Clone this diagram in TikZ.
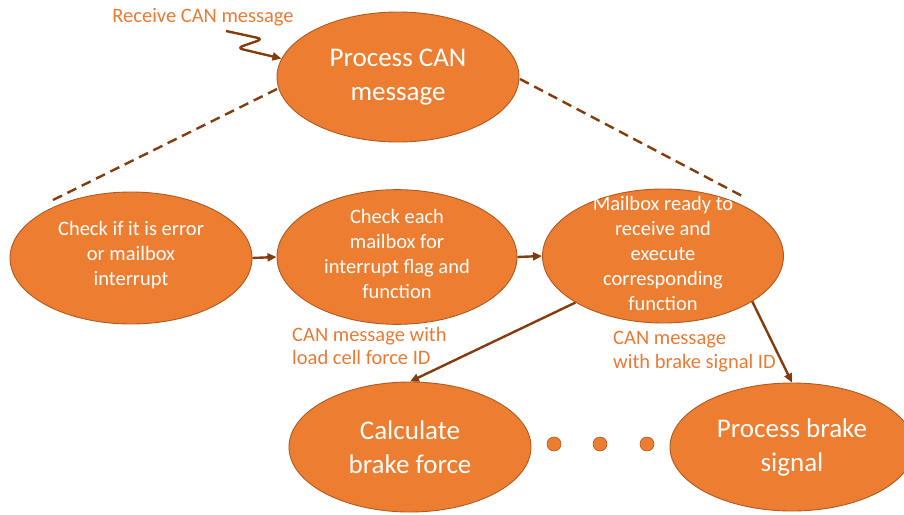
\documentclass[tikz,border=0pt]{standalone}
\usepackage{fontspec}
\setmainfont{Carlito}
\usetikzlibrary{arrows.meta,shapes.geometric}
\definecolor{boxorange}{HTML}{ED7D31}
\definecolor{boxedge}{HTML}{AE5A21}
\definecolor{linkbrown}{HTML}{843C0C}
\definecolor{labelorange}{HTML}{E97A34}
\tikzset{
  state/.style={ellipse, fill=boxorange, draw=boxedge, line width=0.9pt,
    text=white, align=center, inner sep=0pt},
  bigstate/.style={state, font=\fontsize{27}{34}\selectfont},
  smallstate/.style={state, font=\fontsize{20.5}{25}\selectfont},
  link/.style={draw=linkbrown, line width=2.4pt, -{Triangle[length=9pt,width=8pt]}},
  dashlink/.style={draw=linkbrown, line width=2.4pt, dash pattern=on 10pt off 6pt},
  msg/.style={text=labelorange, font=\fontsize{20.5}{23.5}\selectfont, align=left, inner sep=0pt},
  dot/.style={circle, fill=boxorange, draw=boxedge, line width=0.6pt, minimum size=14pt, inner sep=0pt}
}
\begin{document}
\begin{tikzpicture}[x=1pt,y=-1pt]
\useasboundingbox (0,0) rectangle (904,514);
\node[bigstate, minimum width=242pt, minimum height=130pt] (proc) at (398,77) {Process CAN\\message};
\node[smallstate, minimum width=242pt, minimum height=132pt, text depth=9pt] (chk) at (131,258) {Check if it is error\\or mailbox\\interrupt};
\node[smallstate, minimum width=240pt, minimum height=134pt, text depth=6pt] (mbx) at (397,257) {Check each\\mailbox for\\interrupt flag and\\function};
\node[smallstate, minimum width=241pt, minimum height=134pt, text depth=5pt, inner ysep=-17pt] (rdy) at (663,256) {Mailbox ready to\\receive and\\execute\\corresponding\\function};
\node[bigstate, minimum width=242pt, minimum height=130pt] (calc) at (410,447) {Calculate\\brake force};
\node[bigstate, minimum width=244pt, minimum height=128pt] (brk) at (792,447) {Process brake\\signal};

\node[dot] (d1) at (554,444) {};
\node[dot] (d2) at (600,444) {};
\node[dot] (d3) at (647,444) {};

\node[msg] (rx) at (203,17) {Receive CAN message};
\node[msg, anchor=north west] (lc) at (292,327) {CAN message with\\load cell force ID};
\node[msg, anchor=north west] (bs) at (613,331) {CAN message\\with brake signal ID};

% incoming message
\coordinate (z0) at (226,31);
\draw[link, rounded corners=6pt] (z0) -- (263,39) -- (237,48) -- (proc.171);

% dashed hierarchy lines
\coordinate (pl) at (277,89);
\coordinate (pr) at (520,79);
\coordinate (cl) at (51,201);
\coordinate (rr) at (744,197);
\draw[dashlink] (pl) -- (cl);
\draw[dashlink] (pr) -- (rr);

% flow arrows
\draw[link] (chk.east) -- (mbx.west);
\draw[link] (mbx.east) -- (rdy.west);
\draw[link] (rdy.208) -- (calc.north);
\draw[link] (rdy.-27) -- (brk.north);
\end{tikzpicture}
\end{document}
